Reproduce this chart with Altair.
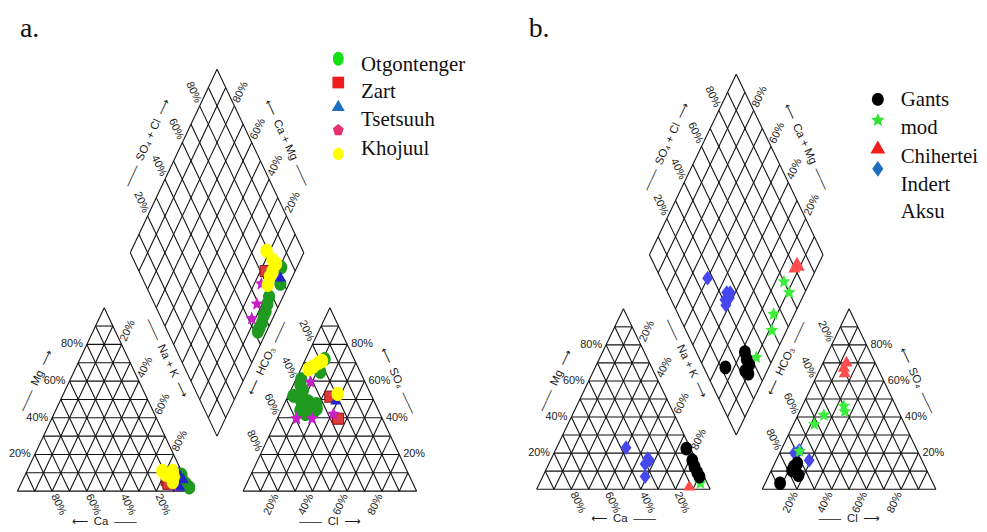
import altair as alt
import numpy as np
import pandas as pd

# ---------------- values (percent) ----------------
TICKS = [20, 40, 60, 80]

# panel a -----------------------------------------------------------------
A_ORDER = ["Otgontenger", "Zart", "Triangle", "Tsetsuuh", "Khojuul"]
A_LEGEND_TEXT = ["Otgontenger", "Zart", "Tsetsuuh", "Khojuul"]
A_CATION = {  # (Ca %, Mg %)
    "Otgontenger": [(1, 9), (1, 4), (0, 2), (2, 6)],
    "Zart": [(11, 6), (11, 4)],
    "Triangle": [(2, 11), (1, 7), (5, 3)],
    "Tsetsuuh": [(9, 3)],
    "Khojuul": [(11, 11), (10, 9), (5, 11), (6, 8), (8, 5)],
}
A_ANION = {  # (Cl %, SO4 %)
    "Otgontenger": [(11, 72), (12, 65), (3, 61), (4, 58), (7, 55), (3, 52), (9, 49),
                    (13, 49), (18.5, 47.5), (11, 44), (15, 42), (19, 43), (20, 45)],
    "Zart": [(24.5, 51.5), (35, 39.5)],
    "Triangle": [(28.5, 50)],
    "Tsetsuuh": [(9, 59.5), (11, 39.5), (20, 39.5), (31, 42)],
    "Khojuul": [(4.5, 66.5), (6.5, 68), (8.5, 70), (10, 71), (28, 53)],
}
A_DIAMOND = {  # (Ca+Mg %, SO4+Cl %)
    "Otgontenger": [(9, 83), (5, 78), (8, 68), (7, 65), (6, 62), (6, 60), (5, 57), (5, 54), (5, 52)],
    "Zart": [(17, 73)],
    "Triangle": [(7, 80)],
    "Tsetsuuh": [(16, 67), (13, 59), (12, 52)],
    "Khojuul": [(22, 79), (16, 80), (13, 81), (13, 77), (13, 74), (12, 70.5)],
}

# panel b -----------------------------------------------------------------
B_ORDER = ["Indert", "mod", "Gants", "Chihertei"]
B_LEGEND_TEXT = ["Gants", "mod", "Chihertei", "Indert", "Aksu"]
B_CATION = {
    "Indert": [(37, 23), (27.5, 17), (30.5, 14), (27, 16), (34, 7)],
    "mod": [(4, 3.3)],
    "Gants": [(2.5, 22.5), (2.3, 16), (2.8, 12.5), (2.8, 9.3), (2.7, 7)],
    "Chihertei": [(11, 2.2)],
}
B_ANION = {
    "Indert": [(8.5, 20), (19, 16), (10.5, 21.5)],
    "mod": [(15, 41), (12, 36), (24, 46), (26, 43), (11, 21)],
    "Gants": [(12, 12.6), (13, 14.3), (12, 10.4), (17, 7.7), (8.6, 3.3)],
    "Chihertei": [(13, 71), (15, 65), (13, 68)],
}
B_DIAMOND = {
    "Indert": [(60, 27), (45, 34), (43, 36), (44, 31), (42, 30), (42, 34)],
    "mod": [(15, 70), (9, 70), (12, 55), (8.5, 49.5), (10, 33)],
    "Gants": [(18, 28), (15, 27), (12, 27), (12.6, 23), (10, 24), (25, 12.5)],
    "Chihertei": [(13, 83), (13, 80), (11, 83)],
}

# ---------------- ternary geometry ----------------
G = 0.3
H3 = np.sqrt(3) / 2


def cat_xy(ca, mg):
    na = 100 - ca - mg
    return (na + 0.5 * mg) / 100, mg / 100 * H3


def an_xy(cl, so4):
    return 1 + G + (cl + 0.5 * so4) / 100, so4 / 100 * H3


def dia_xy(cm, sc):
    return 1 + G / 2 + 0.5 * (sc - cm) / 100, G * H3 + H3 * (cm + sc) / 100


def grid_df():
    segs = []
    for f in range(0, 100, 10):
        segs.append(cat_xy(100 - f, f) + cat_xy(0, f))        # Mg const
        segs.append(cat_xy(100 - f, 0) + cat_xy(0, 100 - f))  # Na const
        segs.append(cat_xy(f, 0) + cat_xy(f, 100 - f))        # Ca const
        segs.append(an_xy(0, f) + an_xy(100 - f, f))          # SO4 const
        segs.append(an_xy(f, 0) + an_xy(f, 100 - f))          # Cl const
        segs.append(an_xy(100 - f, 0) + an_xy(0, 100 - f))    # HCO3 const
    for f in range(0, 101, 10):
        segs.append(dia_xy(f, 0) + dia_xy(f, 100))
        segs.append(dia_xy(0, f) + dia_xy(100, f))
    return pd.DataFrame(segs, columns=["x", "y", "x2", "y2"])


def tick_sets():
    def mk(fn):
        rows = [fn(p) + (f"{p}%",) for p in TICKS]
        return pd.DataFrame(rows, columns=["x", "y", "t"])
    return [
        (mk(lambda p: cat_xy(100 - p, p)), 0, "right", -4),
        (mk(lambda p: cat_xy(0, 100 - p)), 295, "left", 4),
        (mk(lambda p: cat_xy(p, 0)), 65, "left", 4),
        (mk(lambda p: an_xy(100 - p, p)), 0, "left", 4),
        (mk(lambda p: an_xy(0, 100 - p)), 65, "right", -4),
        (mk(lambda p: an_xy(p, 0)), 295, "right", -4),
        (mk(lambda p: dia_xy(100, p)), 65, "right", -4),
        (mk(lambda p: dia_xy(p, 100)), 295, "left", 4),
    ]


DASH = "\u2014\u2014"
LA = "\u27f5"
RA = "\u27f6"
SP = "\u2002"
TITLES = [  # (x unit, y unit, angle, text)
    (0.11, 0.52, 295, DASH + SP + "Mg" + SP + RA),
    (0.50, -0.145, 0, LA + SP + "Ca" + SP + DASH),
    (0.858, 0.627, 65, DASH + SP + "Na + K" + SP + RA),
    (1.442, 0.627, 295, LA + SP + "HCO\u2083" + SP + DASH),
    (2.19, 0.52, 65, LA + SP + "SO\u2084" + SP + DASH),
    (1.80, -0.145, 0, DASH + SP + "Cl" + SP + RA),
    (0.75, 1.643, 295, DASH + SP + "SO\u2084 + Cl" + SP + RA),
    (1.55, 1.643, 65, LA + SP + "Ca + Mg" + SP + DASH),
]


# ---------------- symbol shapes ----------------
def poly_path(pts):
    return "M" + "L".join(f"{x:.3f},{y:.3f}" for x, y in pts) + "Z"


def ellipse(rx, ry, n=32):
    return poly_path([(rx * np.cos(t), ry * np.sin(t)) for t in np.linspace(0, 2 * np.pi, n, endpoint=False)])


def star(ro, ri, sy):
    pts = []
    for i in range(10):
        a = -np.pi / 2 + i * np.pi / 5
        r = ro if i % 2 == 0 else ri
        pts.append((r * np.cos(a), r * np.sin(a) * sy))
    return poly_path(pts)


def pentagon(r, sy):
    return poly_path([(r * np.cos(-np.pi / 2 + i * 2 * np.pi / 5), r * np.sin(-np.pi / 2 + i * 2 * np.pi / 5) * sy)
                      for i in range(5)])


ELL = ellipse(0.86, 1.0)
STAR = star(1.0, 0.45, 1.08)
DIAM = poly_path([(0, -1.05), (0.78, 0), (0, 1.05), (-0.78, 0)])

A_STYLE = {
    "Otgontenger": (ELL, "#1f9a1f", 200, None),
    "Zart": ("square", "#e03a3a", 125, "#8a1010"),
    "Triangle": ("triangle-up", "#2323c8", 135, None),
    "Tsetsuuh": (STAR, "#c81fc8", 180, None),
    "Khojuul": (ELL, "#ffff00", 210, None),
}
B_STYLE = {
    "Indert": (DIAM, "#4747ee", 200, None),
    "mod": (STAR, "#3cee3c", 180, None),
    "Gants": (ELL, "#000000", 190, None),
    "Chihertei": ("triangle-up", "#ff4d4d", 150, None),
}
A_LEGEND_SYM = [(ellipse(0.78, 1.0), "#12e012", 196), ("square", "#ee1c1c", 140),
                ("triangle-up", "#1a6fc4", 170), (pentagon(1.0, 1.1), "#e8306e", 130),
                (ellipse(0.9, 1.0), "#ffff00", 150)]
B_LEGEND_SYM = [(ellipse(0.92, 1.0), "#000000", 170), (star(1.0, 0.45, 1.0), "#33e033", 210),
                ("triangle-up", "#f01e1e", 225), (poly_path([(0, -1), (0.7, 0), (0, 1), (-0.7, 0)]), "#1f6cc0", 256)]

FONT_SANS = "Liberation Sans, Arial, DejaVu Sans, sans-serif"
FONT_SERIF = "Liberation Serif, Times New Roman, serif"
LINE = "#111111"
TXT = "#1a1a1a"
H = 516

PANELS = [
    dict(ox=9.5, oy=493, sx=175, sy=213.6, left=8, width=485, letter="a.", letter_px=(12, 35),
         order=A_ORDER, style=A_STYLE, cat=A_CATION, an=A_ANION, dia=A_DIAMOND,
         sym=A_LEGEND_SYM, sym_x=333, sym_y=[57, 81, 104, 129, 153],
         txt=A_LEGEND_TEXT, txt_x=356, txt_y=[63, 91, 119, 148]),
    dict(ox=533, oy=491, sx=175, sy=210, left=493, width=486, letter="b.", letter_px=(525, 35),
         order=B_ORDER, style=B_STYLE, cat=B_CATION, an=B_ANION, dia=B_DIAMOND,
         sym=B_LEGEND_SYM, sym_x=877, sym_y=[98, 119, 146, 168],
         txt=B_LEGEND_TEXT, txt_x=900, txt_y=[99, 127, 156, 184, 212]),
]


def build_panel(P):
    ux = lambda px: (px - P["ox"]) / P["sx"]
    uy = lambda py: (P["oy"] - py) / P["sy"]
    xs = alt.Scale(domain=[ux(P["left"]), ux(P["left"] + P["width"])], nice=False, zero=False)
    ys = alt.Scale(domain=[uy(8 + H), uy(8)], nice=False, zero=False)
    X = lambda: alt.X("x:Q", scale=xs, axis=None)
    Y = lambda: alt.Y("y:Q", scale=ys, axis=None)

    layers = [alt.Chart(grid_df()).mark_rule(color=LINE, strokeWidth=1.1).encode(
        x=X(), y=Y(), x2="x2:Q", y2="y2:Q")]

    for df, angle, align, dx in tick_sets():
        layers.append(alt.Chart(df).mark_text(angle=angle, align=align, baseline="middle", dx=dx,
                                              font=FONT_SANS, fontSize=11, color=TXT)
                      .encode(x=X(), y=Y(), text="t:N"))

    for angle in (0, 65, 295):
        rows = [(x, y, t) for x, y, a, t in TITLES if a == angle]
        df = pd.DataFrame(rows, columns=["x", "y", "t"])
        layers.append(alt.Chart(df).mark_text(angle=angle, align="center", baseline="middle",
                                              font=FONT_SANS, fontSize=11.5, color=TXT)
                      .encode(x=X(), y=Y(), text="t:N"))

    for grp in P["order"]:
        pts = [cat_xy(*v) for v in P["cat"][grp]] + [an_xy(*v) for v in P["an"][grp]] + \
              [dia_xy(*v) for v in P["dia"][grp]]
        df = pd.DataFrame(pts, columns=["x", "y"])
        shape, color, size, stroke = P["style"][grp]
        kw = dict(shape=shape, filled=True, color=color, size=size, opacity=1)
        if stroke:
            kw.update(stroke=stroke, strokeWidth=1)
        layers.append(alt.Chart(df).mark_point(**kw).encode(x=X(), y=Y()))

    for (shape, color, size), py in zip(P["sym"], P["sym_y"]):
        df = pd.DataFrame({"x": [ux(P["sym_x"])], "y": [uy(py)]})
        layers.append(alt.Chart(df).mark_point(shape=shape, filled=True, color=color, size=size, opacity=1)
                      .encode(x=X(), y=Y()))

    ldf = pd.DataFrame({"x": [ux(P["txt_x"])] * len(P["txt"]), "y": [uy(v) for v in P["txt_y"]], "t": P["txt"]})
    layers.append(alt.Chart(ldf).mark_text(align="left", baseline="middle", font=FONT_SERIF, fontSize=21,
                                           color="#111111").encode(x=X(), y=Y(), text="t:N"))

    lx, ly = P["letter_px"]
    let = pd.DataFrame({"x": [ux(lx)], "y": [uy(ly)], "t": [P["letter"]]})
    layers.append(alt.Chart(let).mark_text(align="left", baseline="alphabetic", font=FONT_SERIF, fontSize=28,
                                           color="#111111").encode(x=X(), y=Y(), text="t:N"))

    return alt.layer(*layers).properties(width=P["width"], height=H)


chart = alt.hconcat(*[build_panel(P) for P in PANELS], spacing=0, padding=0) \
    .configure(background="white") \
    .configure_view(stroke="transparent", strokeWidth=0)

chart.save("out.html", embed_options={"renderer": "svg", "actions": False})
